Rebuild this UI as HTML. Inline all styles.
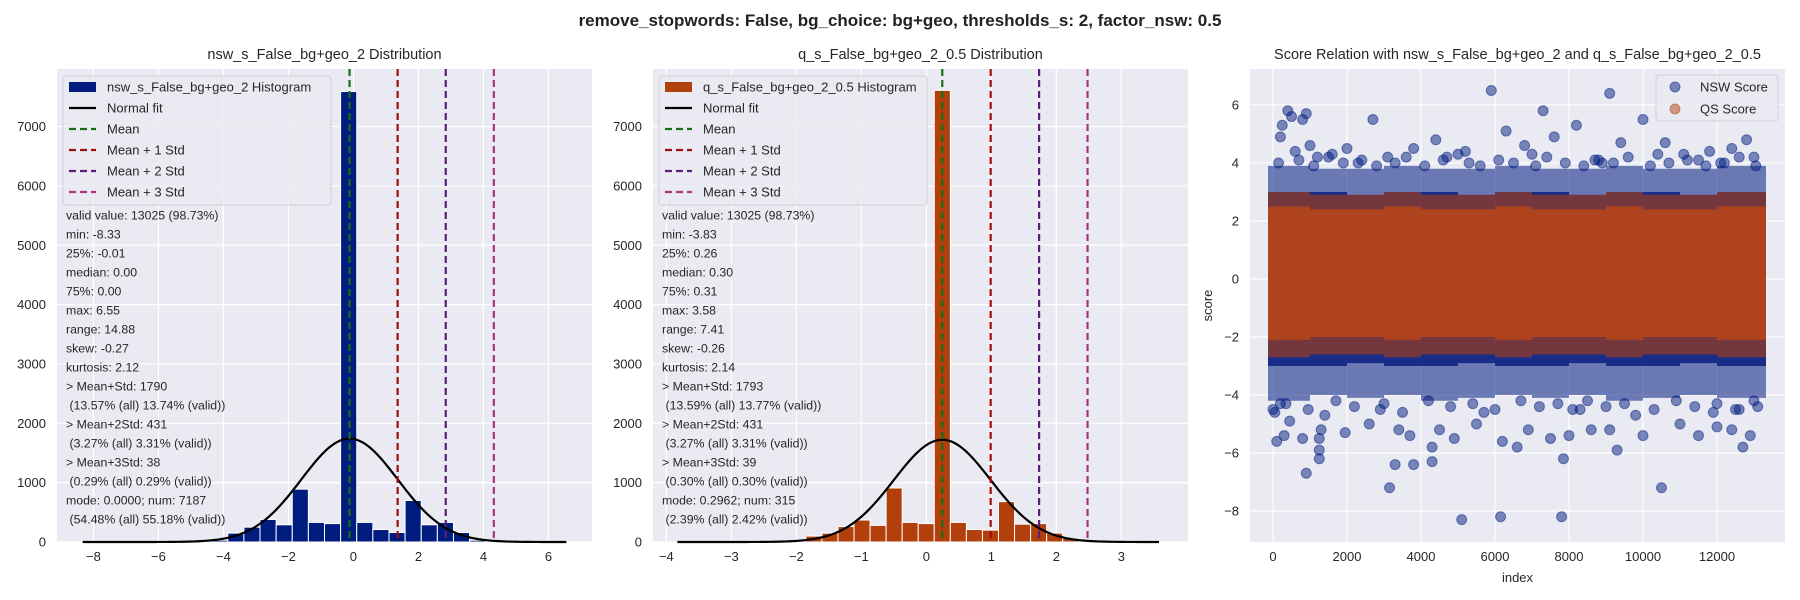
<!DOCTYPE html>
<html><head><meta charset="utf-8"><style>
html,body{margin:0;padding:0;background:#fff;}
svg{display:block;font-family:"Liberation Sans",Arial,sans-serif;}
</style></head><body>
<svg id="fig" width="1800" height="600" viewBox="0 0 1800 600" xmlns="http://www.w3.org/2000/svg">
<text x="900" y="26" text-anchor="middle" font-size="17" font-weight="bold" fill="#222">remove_stopwords: False, bg_choice: bg+geo, thresholds_s: 2, factor_nsw: 0.5</text>
<g id="p1"></g>
<g id="p2"></g>
<g id="p3"></g>
</svg>
<script>
// ---------- data ----------
const nswBinStart = -8.33;
const nswBinWidth = 0.496;
const nswCounts = [1,1,1,2,3,4,8,15,30,150,250,380,290,890,330,310,7590,330,210,160,700,290,330,160,30,10,4,3,2,2];
const nswMean = -0.12;
const nswStd = 1.48;
const nswN = 13025;
const nswStats = ["valid value: 13025 (98.73%)","min: -8.33","25%: -0.01","median: 0.00","75%: 0.00","max: 6.55","range: 14.88","skew: -0.27","kurtosis: 2.12","> Mean+Std: 1790"," (13.57% (all) 13.74% (valid))","> Mean+2Std: 431"," (3.27% (all) 3.31% (valid))","> Mean+3Std: 38"," (0.29% (all) 0.29% (valid))","mode: 0.0000; num: 7187"," (54.48% (all) 55.18% (valid))"];
const nswXTicks = [-8,-6,-4,-2,0,2,4,6];

const qsBinStart = -3.83;
const qsBinWidth = 0.247;
const qsCounts = [1,1,1,2,3,5,10,20,100,150,260,370,280,910,330,310,7610,330,210,200,680,300,310,150,60,20,8,3,2,2];
const qsMean = 0.245;
const qsStd = 0.745;
const qsN = 13025;
const qsStats = ["valid value: 13025 (98.73%)","min: -3.83","25%: 0.26","median: 0.30","75%: 0.31","max: 3.58","range: 7.41","skew: -0.26","kurtosis: 2.14","> Mean+Std: 1793"," (13.59% (all) 13.77% (valid))","> Mean+2Std: 431"," (3.27% (all) 3.31% (valid))","> Mean+3Std: 39"," (0.30% (all) 0.30% (valid))","mode: 0.2962; num: 315"," (2.39% (all) 2.42% (valid))"];
const qsXTicks = [-4,-3,-2,-1,0,1,2,3];

const histYTicks = [0,1000,2000,3000,4000,5000,6000,7000];

const segStart = [0,1000,2000,3000,4000,5000,6000,7000,8000,9000,10000,11000,12000];
const nswFringeLo = [-4.2,-4.0,-4.1,-4.0,-4.2,-4.1,-4.0,-4.1,-4.0,-4.2,-4.1,-4.0,-4.1];
const nswFringeHi = [3.9,3.8,3.8,3.9,3.8,3.8,3.9,3.8,3.8,3.9,3.8,3.8,3.9];
const nswCoreLo = [-3.0,-3.0,-2.9,-3.0,-3.0,-2.9,-3.0,-3.0,-2.9,-3.0,-3.0,-2.9,-3.0];
const nswCoreHi = [3.0,3.0,2.9,3.0,3.0,2.9,3.0,3.0,2.9,3.0,3.0,2.9,3.0];
const qsFringeLo = [-2.7,-2.6,-2.6,-2.7,-2.6,-2.6,-2.7,-2.6,-2.6,-2.7,-2.6,-2.6,-2.7];
const qsFringeHi = [3.0,2.9,2.9,3.0,2.9,2.9,3.0,2.9,2.9,3.0,2.9,2.9,3.0];
const qsCoreLo = [-2.1,-2.0,-2.0,-2.1,-2.0,-2.0,-2.1,-2.0,-2.0,-2.1,-2.0,-2.0,-2.1];
const qsCoreHi = [2.5,2.4,2.4,2.5,2.4,2.4,2.5,2.4,2.4,2.5,2.4,2.4,2.5];
const nswOutIdx = [0,100,200,300,450,800,900,1250,1250,1250,1300,1950,3150,3300,3800,4300,4300,5100,6150,6600,7800,7850,9300,10500,11500,12000,12700,12900,3400,3700,4900,5500,6200,7500,8000,8600,10000,11000,12400,2600,4500,6900,9100,200,250,400,500,800,900,1000,1600,2000,2700,3800,4400,5000,5200,5900,6300,7300,7600,8200,8700,9100,9400,10000,10600,11100,11800,12400,12800,13000,3100,6800,10400,12100,600,1200,2300,4700,7000,8900,11500,50,1400,2900,5700,8300,9800,11900,12600,13100];
const nswOutVal = [-4.5,-5.6,-4.3,-5.4,-4.9,-5.5,-6.7,-6.2,-5.9,-5.5,-5.2,-5.3,-7.2,-6.4,-6.4,-6.3,-5.8,-8.3,-8.2,-5.8,-8.2,-6.2,-5.9,-7.2,-5.4,-5.1,-5.8,-5.4,-5.2,-5.4,-5.5,-5.0,-5.6,-5.5,-5.4,-5.2,-5.4,-5.0,-5.2,-5.0,-5.2,-5.2,-5.2,4.9,5.3,5.8,5.6,5.5,5.7,4.6,4.3,4.5,5.5,4.5,4.8,4.3,4.4,6.5,5.1,5.8,4.9,5.3,4.1,6.4,4.7,5.5,4.7,4.3,4.4,4.5,4.8,4.2,4.2,4.6,4.3,4.0,4.4,4.2,4.0,4.2,4.3,4.0,4.1,-4.6,-4.7,-4.5,-4.6,-4.5,-4.7,-4.6,-4.5,-4.4];
const nswEdgeIdx = [150,700,1100,1500,1900,2400,2800,3300,3600,4100,4600,5300,5600,6100,6500,7100,7400,7900,8400,8800,9200,9600,10200,10700,11200,11700,12200,12600,13050,350,950,1700,2200,3000,3500,4200,4800,5400,6000,6700,7200,7700,8100,8500,9000,9500,10300,10900,11400,12000,12500,13000];
const nswEdgeVal = [4.0,4.1,3.9,4.2,4.0,4.1,3.9,4.0,4.2,3.9,4.1,4.0,3.9,4.1,4.0,3.9,4.2,4.0,3.9,4.1,4.0,4.2,3.9,4.0,4.1,3.9,4.0,4.2,3.9,-4.3,-4.5,-4.2,-4.4,-4.3,-4.6,-4.2,-4.4,-4.3,-4.5,-4.2,-4.4,-4.3,-4.5,-4.2,-4.4,-4.3,-4.5,-4.2,-4.4,-4.3,-4.5,-4.2];
const scatterXTicks = [0,2000,4000,6000,8000,10000,12000];
const scatterYTicks = [-8,-6,-4,-2,0,2,4,6];

// ---------- helpers ----------
const NS = "http://www.w3.org/2000/svg";
function mk(parent, tag, attrs, txt){
  const e = document.createElementNS(NS, tag);
  for (const k in attrs) e.setAttribute(k, attrs[k]);
  if (txt !== undefined) e.textContent = txt;
  parent.appendChild(e);
  return e;
}
function fmt(v){ return v < 0 ? "\u2212" + Math.abs(v) : String(v); }

function axesFrame(g, L, R, T, B, sx, sy, xt, yt){
  const bg = mk(g, "rect", {x:L, y:T, width:R-L, height:B-T, fill:"#eaeaf2"});
  
  
  xt.forEach(v => {
    const x = sx(v);
    const gl = mk(g, "line", {x1:x, x2:x, y1:T, y2:B, stroke:"#fff", "stroke-width":1.2});
    
    
    const t = mk(g, "text", {x:x, y:B+19, "text-anchor":"middle", "font-size":13, fill:"#262626"}, fmt(v));
    
    
  });
  yt.forEach(v => {
    const y = sy(v);
    const gl = mk(g, "line", {x1:L, x2:R, y1:y, y2:y, stroke:"#fff", "stroke-width":1.2});
    
    
    const t = mk(g, "text", {x:L-11, y:y+4.5, "text-anchor":"end", "font-size":13, fill:"#262626"}, fmt(v));
    
    
  });
}

function histPanel(g, L, R, xmin, xmax, binStart, binW, counts, mean, std, N, stats, xt, color, title, label){
  const T = 69, B = 542, ymax = 7970;
  const sx = v => L + (v - xmin) / (xmax - xmin) * (R - L);
  const sy = v => B - v / ymax * (B - T);
  axesFrame(g, L, R, T, B, sx, sy, xt, histYTicks);
  const tt = mk(g, "text", {x:(L+R)/2, y:59, "text-anchor":"middle", "font-size":14.5, fill:"#262626"}, title);
  
  
  counts.forEach((c, i) => {
    const x0 = sx(binStart + i*binW), x1 = sx(binStart + (i+1)*binW);
    const r = mk(g, "rect", {x:x0, y:sy(c), width:x1-x0, height:B-sy(c), fill:color, stroke:"#fff", "stroke-width":1});
    
    
  });
  const lo = binStart, hi = binStart + counts.length*binW;
  let d = "";
  for (let k = 0; k <= 200; k++){
    const v = lo + (hi-lo)*k/200;
    const y = N*binW/(std*Math.sqrt(2*Math.PI))*Math.exp(-0.5*((v-mean)/std)**2);
    d += (k ? "L" : "M") + sx(v).toFixed(2) + "," + sy(y).toFixed(2);
  }
  const nf = mk(g, "path", {d:d, fill:"none", stroke:"#000", "stroke-width":2.2});
  
  
  const lineCols = ["#157015","#a00d0d","#5a1f78","#a8367f"];
  const lineNames = ["mean-line","mean-plus-1-std-line","mean-plus-2-std-line","mean-plus-3-std-line"];
  [0,1,2,3].forEach(k => {
    const x = sx(mean + k*std);
    const ln = mk(g, "line", {x1:x, x2:x, y1:T, y2:B, stroke:lineCols[k], "stroke-width":2.2, "stroke-dasharray":"7,4"});
    
    
  });
  const lg = mk(g, "g", {});
  
  
  mk(lg, "rect", {x:L+6, y:76, width:268, height:129, rx:3, fill:"#eaeaf2", "fill-opacity":0.8, stroke:"#d0d0d8"});
  const labels = [label, "Normal fit", "Mean", "Mean + 1 Std", "Mean + 2 Std", "Mean + 3 Std"];
  labels.forEach((s, k) => {
    const y = 87 + k*21;
    if (k === 0) mk(lg, "rect", {x:L+12, y:y-5, width:27, height:10, fill:color});
    else if (k === 1) mk(lg, "line", {x1:L+12, x2:L+39, y1:y, y2:y, stroke:"#000", "stroke-width":2.2});
    else mk(lg, "line", {x1:L+12, x2:L+39, y1:y, y2:y, stroke:lineCols[k-2], "stroke-width":2.2, "stroke-dasharray":"7,4"});
    const t = mk(lg, "text", {x:L+50, y:y+4.5, "font-size":13, fill:"#262626"}, s);
    
    
  });
  stats.forEach((s, k) => {
    const indent = s.startsWith(" ") ? 3.5 : 0;
    const t = mk(g, "text", {x:L+9+indent, y:215 + k*19 + 4.5, "font-size":12.3, fill:"#262626"}, s.trim());
    
    
  });
}

histPanel(document.getElementById("p1"), 57, 592, -9.12, 7.34, nswBinStart, nswBinWidth, nswCounts, nswMean, nswStd, nswN, nswStats, nswXTicks, "#001c7f", "nsw_s_False_bg+geo_2 Distribution", "nsw_s_False_bg+geo_2 Histogram");
histPanel(document.getElementById("p2"), 653, 1188, -4.206, 4.026, qsBinStart, qsBinWidth, qsCounts, qsMean, qsStd, qsN, qsStats, qsXTicks, "#b1400d", "q_s_False_bg+geo_2_0.5 Distribution", "q_s_False_bg+geo_2_0.5 Histogram");

// ---------- scatter ----------
(function(){
  const g = document.getElementById("p3");
  const L = 1250, R = 1785, T = 69, B = 542;
  const xmin = -622, xmax = 13838, ymin = -9.07, ymax = 7.24;
  const sx = v => L + (v - xmin) / (xmax - xmin) * (R - L);
  const sy = v => B - (v - ymin) / (ymax - ymin) * (B - T);
  axesFrame(g, L, R, T, B, sx, sy, scatterXTicks, scatterYTicks);
  const tt = mk(g, "text", {x:(L+R)/2, y:59, "text-anchor":"middle", "font-size":14.5, fill:"#262626"}, "Score Relation with nsw_s_False_bg+geo_2 and q_s_False_bg+geo_2_0.5");
  
  
  const xl = mk(g, "text", {x:(L+R)/2, y:582, "text-anchor":"middle", "font-size":13, fill:"#262626"}, "index");
  
  
  const yl = mk(g, "text", {x:1212, y:(T+B)/2, "text-anchor":"middle", "font-size":13, fill:"#262626", transform:"rotate(-90 1212 "+((T+B)/2)+")"}, "score");
  
  
  const segEnd = i => (i+1 < segStart.length ? segStart[i+1] : 13190);
  function band(lo, hi, col, op, name){
    let top = "", bot = "";
    segStart.forEach((s, i) => {
      const x0 = (i === 0 ? sx(s) - 5 : sx(s)), x1 = (i === segStart.length-1 ? sx(segEnd(i)) + 5 : sx(segEnd(i)));
      top += (i ? "L" : "M") + x0.toFixed(1) + "," + sy(hi[i]).toFixed(1) + "L" + x1.toFixed(1) + "," + sy(hi[i]).toFixed(1);
      bot = "L" + x1.toFixed(1) + "," + sy(lo[i]).toFixed(1) + "L" + x0.toFixed(1) + "," + sy(lo[i]).toFixed(1) + bot;
    });
    const p = mk(g, "path", {d: top + bot + "Z", fill:col, "fill-opacity":op});
    
    
  }
  band(nswFringeLo, nswFringeHi, "#001c7f", 0.55, "nsw-score-fringe");
  band(nswCoreLo, nswCoreHi, "#0a1f80", 0.85, "nsw-score-core");
  nswEdgeIdx.forEach((ix, k) => {
    const c = mk(g, "circle", {cx:sx(ix), cy:sy(nswEdgeVal[k]), r:5, fill:"#001c7f", "fill-opacity":0.5, stroke:"#001c7f", "stroke-opacity":0.5});
    
    
  });
  nswOutIdx.forEach((ix, k) => {
    const c = mk(g, "circle", {cx:sx(ix), cy:sy(nswOutVal[k]), r:5, fill:"#001c7f", "fill-opacity":0.5, stroke:"#001c7f", "stroke-opacity":0.5});
    
    
  });
  band(qsFringeLo, qsFringeHi, "#b1400d", 0.6, "qs-score-fringe");
  band(qsCoreLo, qsCoreHi, "#b4441a", 0.92, "qs-score-core");
  const lg = mk(g, "g", {});
  
  
  mk(lg, "rect", {x:1656, y:75, width:122, height:46, rx:3, fill:"#eaeaf2", "fill-opacity":0.8, stroke:"#d0d0d8"});
  [["NSW Score","#001c7f"],["QS Score","#b1400d"]].forEach((e, k) => {
    const y = 87 + k*22;
    mk(lg, "circle", {cx:1675, cy:y, r:5, fill:e[1], "fill-opacity":0.5, stroke:e[1], "stroke-opacity":0.5});
    const t = mk(lg, "text", {x:1700, y:y+4.5, "font-size":13, fill:"#262626"}, e[0]);
    
    
  });
})();
</script>
</body></html>
